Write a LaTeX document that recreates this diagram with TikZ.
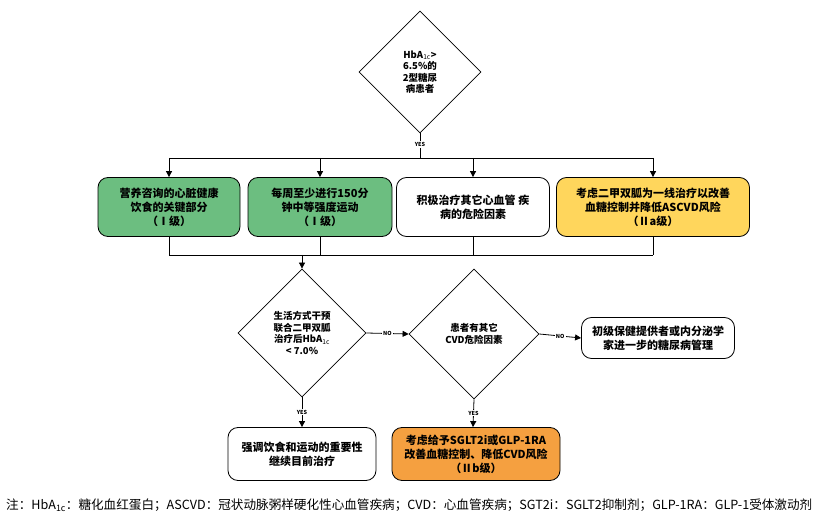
\documentclass[tikz,border=0pt]{standalone}
\usepackage{fontspec}
\setmainfont{Noto Sans CJK SC}
\usetikzlibrary{shapes.geometric,arrows.meta}
\definecolor{boxgreen}{RGB}{108,190,128}
\definecolor{boxyellow}{RGB}{255,214,92}
\definecolor{boxorange}{RGB}{245,160,64}
\tikzset{
  box/.style={draw,thick,rounded corners=10pt,align=center,font=\bfseries\fontsize{11}{14}\selectfont},
  dec/.style={draw,thick,diamond,aspect=1,align=center,font=\bfseries\fontsize{9.5}{11.5}\selectfont,inner sep=0pt},
  lab/.style={font=\bfseries\fontsize{5.5}{6}\selectfont,fill=white,inner sep=1pt},
  arr/.style={-{Triangle[length=6pt,width=6pt]}},
}
\begin{document}
\begin{tikzpicture}[x=1pt,y=-1pt]
\useasboundingbox (0,0) rectangle (831,524);
% diamonds
\node[dec,minimum size=122pt] (d1) at (420,72) {HbA$_{\mathrm{1c}}$>\\6.5\%的\\2型糖尿\\病患者};
\node[dec,minimum size=128pt] (d2) at (302,333) {生活方式干预\\联合二甲双胍\\治疗后HbA$_{\mathrm{1c}}$\\< 7.0\%};
\node[dec,minimum size=130pt] (d3) at (474,334) {患者有其它\\CVD危险因素};
% boxes
\node[box,fill=boxgreen,minimum width=142pt,minimum height=59pt] (b1) at (169,207) {营养咨询的心脏健康\\饮食的关键部分\\（Ⅰ级）};
\node[box,fill=boxgreen,minimum width=144pt,minimum height=59pt] (b2) at (320,207) {每周至少进行150分\\钟中等强度运动\\（Ⅰ级）};
\node[box,minimum width=153pt,minimum height=59pt] (b3) at (473,207) {积极治疗其它心血管\ 疾\\病的危险因素};
\node[box,fill=boxyellow,minimum width=193pt,minimum height=59pt] (b4) at (653,207) {考虑二甲双胍为一线治疗以改善\\血糖控制并降低ASCVD风险\\（Ⅱa级）};
\node[box,minimum width=153pt,minimum height=41pt] (b5) at (658,338) {初级保健提供者或内分泌学\\家进一步的糖尿病管理};
\node[box,minimum width=148pt,minimum height=53pt] (b6) at (302,454) {强调饮食和运动的重要性\\继续目前治疗};
\node[box,fill=boxorange,minimum width=168pt,minimum height=53pt] (b7) at (476,454) {考虑给予SGLT2i或GLP-1RA\\改善血糖控制、降低CVD风险\\（Ⅱb级）};
% connectors
\coordinate (top) at (420,158);
\coordinate (bot) at (302,255);
\draw[thick] (d1.south) -- (top) node[lab,pos=0.45]{YES};
\draw[thick] (b1.north |- top) -- (b4.north |- top);
\foreach \b in {b1,b2,b3,b4}{
  \draw[thick,arr] (\b.north |- top) -- (\b.north);
  \draw[thick] (\b.south) -- (\b.south |- bot);
}
\draw[thick] (b1.south |- bot) -- (b4.south |- bot);
\draw[thick,arr] (bot) -- (d2.north);
\draw[thick,arr] (d2.east) -- (d3.west) node[lab,midway]{NO};
\draw[thick,arr] (d3.east) -- (b5.west) node[lab,midway]{NO};
\draw[thick,arr] (d2.south) -- (b6.north) node[lab,midway]{YES};
\draw[thick,arr] (d3.south) -- (b3.south |- b7.north) node[lab,midway]{YES};
% note
\node[anchor=west,font=\fontsize{12.6}{14}\selectfont,inner sep=0pt] (note) at (6,505) {注：HbA$_{\mathrm{1c}}$：糖化血红蛋白；ASCVD：冠状动脉粥样硬化性心血管疾病；CVD：心血管疾病；SGT2i：SGLT2抑制剂；GLP-1RA：GLP-1受体激动剂};
\end{tikzpicture}
\end{document}
